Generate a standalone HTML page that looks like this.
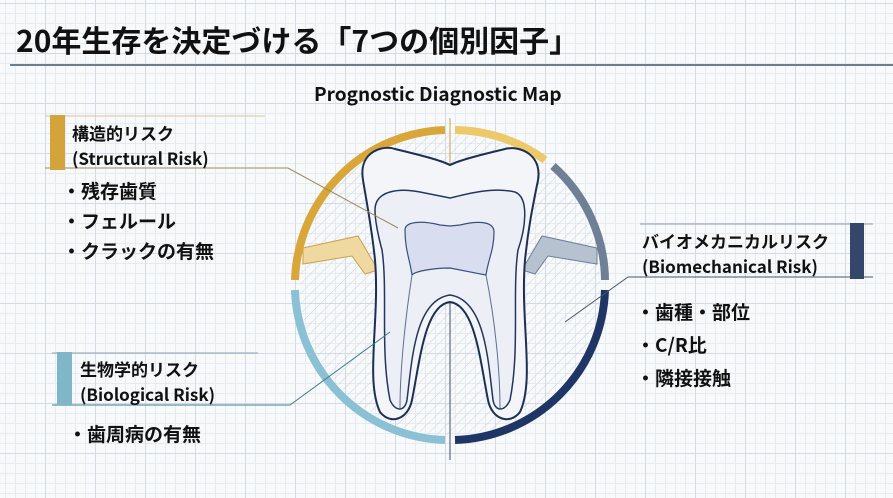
<!DOCTYPE html>
<html><head><meta charset="utf-8"><style>
html,body{margin:0;padding:0}
body{width:893px;height:498px;overflow:hidden;position:relative;font-family:"Liberation Sans","Noto Sans CJK JP",sans-serif;color:#111;
background-color:#f7f9fb;
background-image:linear-gradient(#d3dae3 1px,transparent 1px),linear-gradient(90deg,#d3dae3 1px,transparent 1px),linear-gradient(#e6ebf0 1px,transparent 1px),linear-gradient(90deg,#e6ebf0 1px,transparent 1px);
background-size:50px 50px,50px 50px,10px 10px,10px 10px;background-position:-5px 3px,-5px 3px,-5px 3px,-5px 3px}
.t{position:absolute;white-space:nowrap;font-weight:bold}
</style></head><body>
<div class="t" style="left:16px;top:17px;font-size:30px;font-family:'Noto Sans CJK JP',sans-serif;">20年生存を決定づける「7つの個別因子」</div>
<div style="position:absolute;left:10px;top:64px;width:883px;height:2px;background:#6d7c8c"></div>
<div class="t" style="left:314px;top:80px;font-size:19px;font-family:'Noto Sans CJK JP',sans-serif;">Prognostic Diagnostic Map</div>

<svg width="893" height="498" style="position:absolute;left:0;top:0">
<defs>
<pattern id="h" width="7" height="7" patternUnits="userSpaceOnUse" patternTransform="rotate(45)"><line x1="0" y1="0" x2="0" y2="7" stroke="#c5ccd4" stroke-width="1"/></pattern>
</defs>
<circle cx="450" cy="285" r="150" fill="url(#h)" opacity="0.8"/>
<path d="M303 248 L358 236 L378 270 L365 274 L352 256 L303 264Z" fill="#efd9a0" stroke="#c9a24a" stroke-width="1"/>
<path d="M597 248 L542 236 L522 270 L535 274 L548 256 L597 264Z" fill="#b7c2d0" stroke="#6d7f96" stroke-width="1"/>
<g fill="none" stroke-width="8">
<path d="M295 280 A155 155 0 0 1 445 130" stroke="#d9a63a"/>
<path d="M455 130 A155 155 0 0 1 545 160" stroke="#edc96a"/>
<path d="M553 166 A155 155 0 0 1 605 280" stroke="#6f8096"/>
<path d="M605 290 A155 155 0 0 1 455 440" stroke="#1f3566"/>
<path d="M445 440 A155 155 0 0 1 295 290" stroke="#8cc0d4"/>
</g>
<line x1="450" y1="118" x2="450" y2="165" stroke="#c9a24a" stroke-width="1"/>
<line x1="450" y1="300" x2="450" y2="460" stroke="#5a6b80" stroke-width="1.2"/>
<path d="M363 180 C358 150 385 145 395 149 C420 155 440 160 450 165 C460 160 480 155 505 149 C520 145 545 155 537 185 C532 210 528 230 525 260 C520 320 535 380 520 412 C510 425 492 420 488 400 C480 360 475 305 450 302 C425 305 420 360 412 400 C408 420 390 425 380 412 C365 380 380 320 375 260 C372 230 368 210 363 180Z" fill="#f3f5f9" stroke="#1d2f55" stroke-width="2"/>
<path d="M375 210 C375 190 400 188 420 192 C440 196 450 198 450 198 C460 196 490 186 515 192 C530 198 525 230 518 250 C512 290 520 350 510 400 C505 412 495 412 493 400 C488 360 485 300 450 295 C415 300 412 360 407 400 C405 412 395 412 390 400 C380 350 388 290 382 250 C378 235 375 220 375 210Z" fill="#eceff5" stroke="#23365e" stroke-width="1.5"/>
<path d="M405 230 C405 222 420 220 440 225 L450 226 L460 225 C480 220 494 222 494 232 C494 250 488 260 486 275 C470 272 450 268 450 268 C430 268 414 272 412 275 C410 260 405 250 405 230Z" fill="#d8def0" stroke="#3a4f7a" stroke-width="1.2"/>
<path d="M412 275 C405 320 400 370 400 408 M486 275 C495 320 500 370 500 408" fill="none" stroke="#5d6f92" stroke-width="1"/>
<polyline points="45,168 288,168 398,228" fill="none" stroke="#9a8a55" stroke-width="1"/>
<line x1="45" y1="116" x2="265" y2="116" stroke="#d6c89a" stroke-width="1"/>
<polyline points="52,405 290,405 390,332" fill="none" stroke="#3f7d8c" stroke-width="1"/>
<line x1="52" y1="353" x2="258" y2="353" stroke="#8aa6b0" stroke-width="1"/>
<polyline points="873,277 628,277 565,322" fill="none" stroke="#4a5668" stroke-width="1"/>
<line x1="640" y1="224" x2="873" y2="224" stroke="#8a96a6" stroke-width="1"/>
<rect x="50" y="115" width="15" height="55" fill="#d4a43c"/>
<rect x="57" y="352" width="15" height="53" fill="#7fb6c8"/>
<rect x="850" y="223" width="14" height="56" fill="#34476a"/>
</svg>

<div class="t" style="left:72px;top:120px;font-size:17px;line-height:25px;font-family:'Noto Sans CJK JP',sans-serif">構造的リスク<br>(Structural Risk)</div>
<div class="t" style="left:62px;top:176px;font-size:19px;line-height:30px;font-family:'Noto Sans CJK JP',sans-serif">・残存歯質<br>・フェルール<br>・クラックの有無</div>
<div class="t" style="left:80px;top:356px;font-size:17px;line-height:25px;font-family:'Noto Sans CJK JP',sans-serif">生物学的リスク<br>(Biological Risk)</div>
<div class="t" style="left:68px;top:419px;font-size:19px;line-height:30px;font-family:'Noto Sans CJK JP',sans-serif">・歯周病の有無</div>
<div class="t" style="left:642px;top:228px;font-size:17px;line-height:25px;font-family:'Noto Sans CJK JP',sans-serif">バイオメカニカルリスク<br>(Biomechanical Risk)</div>
<div class="t" style="left:636px;top:295px;font-size:19px;line-height:33px;font-family:'Noto Sans CJK JP',sans-serif">・歯種・部位<br>・C/R比<br>・隣接接触</div>
</body></html>
